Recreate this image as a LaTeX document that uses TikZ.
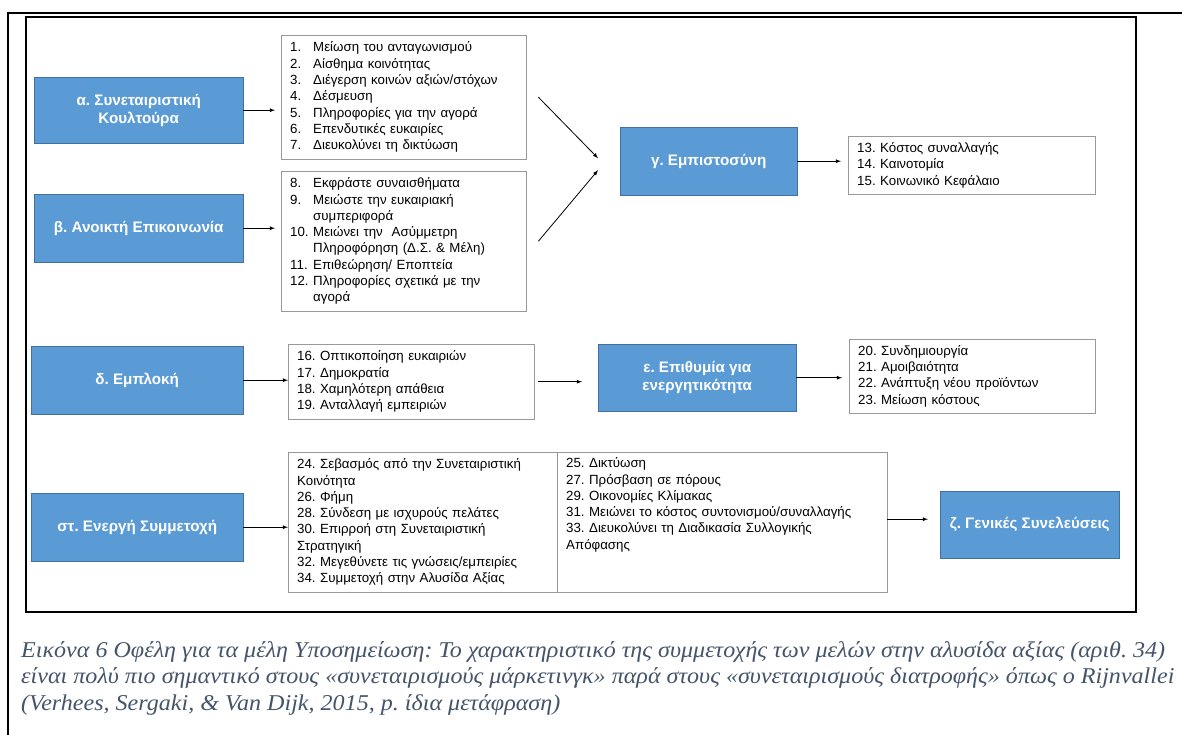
\documentclass[tikz,border=0pt]{standalone}
\usepackage{fontspec}
\setmainfont{Liberation Sans}
\newfontfamily\capfont{Liberation Serif}
\usepackage{xcolor}
\usetikzlibrary{arrows,positioning}
\definecolor{boxblue}{RGB}{91,155,213}
\definecolor{boxline}{RGB}{65,113,156}
\definecolor{capgray}{RGB}{68,84,106}
\frenchspacing
\newcommand{\itm}[2]{\makebox[23pt][l]{#1}#2}
\newcommand{\hng}[1]{\hspace*{23pt}#1}
\tikzset{
  headbox/.style={draw=boxline, fill=boxblue, text=white, font=\bfseries\fontsize{15.2}{17.7}\selectfont, align=center, inner sep=0pt, anchor=north west},
  listbox/.style={draw=black!40, align=left, font=\fontsize{13.3}{16.3}\selectfont, inner xsep=9pt, inner ysep=0pt, anchor=north west},
  conn/.style={->, >=latex, line width=0.8pt},
}

\begin{document}
\begin{tikzpicture}[x=1pt,y=-1pt]
\useasboundingbox (0,0) rectangle (1182,735);
\draw[line width=1.8pt] (8,735) -- (8,12.7) -- (1182,12.7);
\draw[line width=2pt] (26,16.7) rectangle (1136,612);

\node[headbox, minimum width=209pt, minimum height=66pt] (alpha) at (34,77) {α. Συνεταιριστική\\Κουλτούρα};
\node[headbox, minimum width=209pt, minimum height=68pt] (beta) at (34,194) {β. Ανοικτή Επικοινωνία};
\node[headbox, minimum width=177pt, minimum height=68pt] (gamma) at (620,127) {γ. Εμπιστοσύνη};
\node[headbox, minimum width=212pt, minimum height=68pt] (delta) at (31,346) {δ. Εμπλοκή};
\node[headbox, minimum width=198pt, minimum height=67pt] (epsilon) at (598,344) {ε. Επιθυμία για\\ενεργητικότητα};
\node[headbox, minimum width=212pt, minimum height=68pt] (stau) at (31,493) {στ. Ενεργή Συμμετοχή};
\node[headbox, minimum width=179pt, minimum height=67pt] (zeta) at (940,491) {ζ. Γενικές Συνελεύσεις};

\node[listbox, text width=227pt, minimum height=124pt] (list1) at (281,35) {%
\itm{1.}{Μείωση του ανταγωνισμού}\\
\itm{2.}{Αίσθημα κοινότητας}\\
\itm{3.}{Διέγερση κοινών αξιών/στόχων}\\
\itm{4.}{Δέσμευση}\\
\itm{5.}{Πληροφορίες για την αγορά}\\
\itm{6.}{Επενδυτικές ευκαιρίες}\\
\itm{7.}{Διευκολύνει τη δικτύωση}};
\node[listbox, text width=227pt, minimum height=140pt] (list2) at (281,171) {%
\itm{8.}{Εκφράστε συναισθήματα}\\
\itm{9.}{Μειώστε την ευκαιριακή}\\
\hng{συμπεριφορά}\\
\itm{10.}{Μειώνει την \ Ασύμμετρη}\\
\hng{Πληροφόρηση (Δ.Σ. \& Μέλη)}\\
\itm{11.}{Επιθεώρηση/ Εποπτεία}\\
\itm{12.}{Πληροφορίες σχετικά με την}\\
\hng{αγορά}};
\node[listbox, text width=229pt, minimum height=58pt] (list3) at (848,136) {%
13. Κόστος συναλλαγής\\
14. Καινοτομία\\
15. Κοινωνικό Κεφάλαιο};
\node[listbox, text width=228pt, minimum height=75pt] (list4) at (288,344) {%
16. Οπτικοποίηση ευκαιριών\\
17. Δημοκρατία\\
18. Χαμηλότερη απάθεια\\
19. Ανταλλαγή εμπειριών};
\node[listbox, text width=228pt, minimum height=74pt] (list5) at (849,339) {%
20. Συνδημιουργία\\
21. Αμοιβαιότητα\\
22. Ανάπτυξη νέου προϊόντων\\
23. Μείωση κόστους};
\node[listbox, text width=251pt, minimum height=140pt] (list6a) at (288,452) {%
24. Σεβασμός από την Συνεταιριστική\\
Κοινότητα\\
26. Φήμη\\
28. Σύνδεση με ισχυρούς πελάτες\\
30. Επιρροή στη Συνεταιριστική\\
Στρατηγική\\
32. Μεγεθύνετε τις γνώσεις/εμπειρίες\\
34. Συμμετοχή στην Αλυσίδα Αξίας};
\node[listbox, text width=312pt, minimum height=140pt] (list6b) at (557,452) {%
25. Δικτύωση\\
27. Πρόσβαση σε πόρους\\
29. Οικονομίες Κλίμακας\\
31. Μειώνει το κόστος συντονισμού/συναλλαγής\\
33. Διευκολύνει τη Διαδικασία Συλλογικής\\
Απόφασης\\
\strut\\
\strut};

% connectors
\draw[conn, shorten >=6pt] (alpha.east) -- (alpha.east -| list1.west);
\draw[conn, shorten >=6pt] (beta.east) -- (beta.east -| list2.west);
\draw[conn] ([xshift=12pt]list1.east) -- ([xshift=-22pt,yshift=3pt]gamma.west);
\draw[conn] ([xshift=12pt]list2.east) -- ([xshift=-22pt,yshift=-9pt]gamma.west);
\draw[conn, shorten >=7pt] (gamma.east) -- (gamma.east -| list3.west);
\draw[conn] (delta.east) -- (delta.east -| list4.west);
\draw[conn, shorten <=4pt, shorten >=16pt] (list4.east) -- (list4.east -| epsilon.west);
\draw[conn, shorten >=7pt] (epsilon.east) -- (epsilon.east -| list5.west);
\draw[conn] (stau.east) -- (stau.east -| list6a.west);
\draw[conn, shorten >=12pt] ([yshift=3pt]list6b.east) -- ([yshift=3pt]list6b.east -| zeta.west);

\node[anchor=base west, align=left, inner sep=0pt, text=capgray, xscale=1.065, transform shape, font=\capfont\itshape\fontsize{22.6}{26.3}\selectfont] (caption) at (21,710) {%
Εικόνα 6 Οφέλη για τα μέλη Υποσημείωση: Το χαρακτηριστικό της συμμετοχής των μελών στην αλυσίδα αξίας (αριθ. 34)\\
είναι πολύ πιο σημαντικό στους «συνεταιρισμούς μάρκετινγκ» παρά στους «συνεταιρισμούς διατροφής» όπως ο Rijnvallei\\
(Verhees, Sergaki, \& Van Dijk, 2015, p. ίδια μετάφραση)};
\end{tikzpicture}
\end{document}
